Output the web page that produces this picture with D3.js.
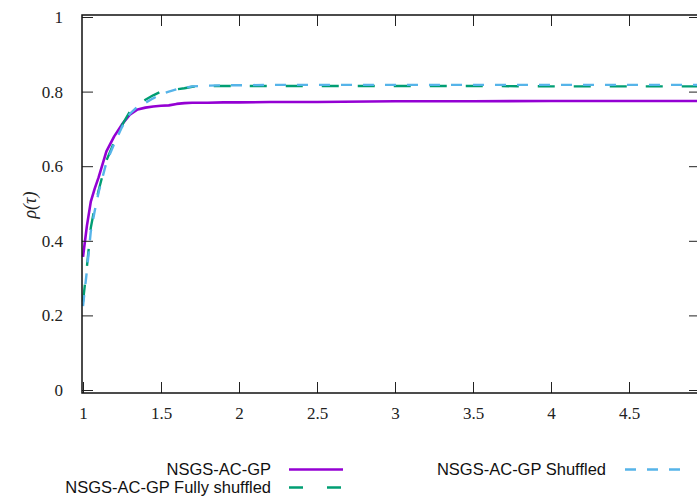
<!DOCTYPE html>
<html><head><meta charset="utf-8">
<script src="https://cdn.jsdelivr.net/npm/d3@7"></script>
<style>
html,body{margin:0;padding:0;background:#fff;}
svg{display:block;}
</style></head>
<body>
<script>
const xVals = [1, 1.025, 1.05, 1.075, 1.1, 1.125, 1.15, 1.2, 1.25, 1.3, 1.35, 1.4, 1.45, 1.5, 1.55, 1.6, 1.65, 1.7, 1.8, 1.9, 2, 2.2, 2.5, 3, 3.5, 4, 4.5, 5];
const nsgs = [0.357, 0.44, 0.505, 0.54, 0.57, 0.605, 0.64, 0.68, 0.712, 0.738, 0.752, 0.757, 0.760, 0.762, 0.763, 0.767, 0.769, 0.770, 0.770, 0.771, 0.771, 0.772, 0.772, 0.774, 0.774, 0.775, 0.775, 0.775];
const fullyShuffled = [0.237, 0.33, 0.435, 0.49, 0.535, 0.575, 0.615, 0.665, 0.71, 0.746, 0.765, 0.778, 0.79, 0.80, 0.803, 0.806, 0.809, 0.813, 0.815, 0.815, 0.815, 0.815, 0.815, 0.815, 0.815, 0.814, 0.814, 0.814];
const shuffled = [0.225, 0.32, 0.425, 0.48, 0.53, 0.57, 0.61, 0.66, 0.705, 0.74, 0.76, 0.77, 0.782, 0.793, 0.80, 0.806, 0.81, 0.814, 0.816, 0.817, 0.817, 0.818, 0.818, 0.818, 0.818, 0.818, 0.818, 0.818];
const seriesNames = ["NSGS-AC-GP", "NSGS-AC-GP Fully shuffled", "NSGS-AC-GP Shuffled"];
const xTicks = [1, 1.5, 2, 2.5, 3, 3.5, 4, 4.5];
const yTicks = [0, 0.2, 0.4, 0.6, 0.8, 1];
const yLabel = "ρ(τ)";

const W = 697, H = 501;
const svg = d3.select("body").append("svg").attr("width", W).attr("height", H);

const x = d3.scaleLinear().domain([1, 5]).range([83, 707]);
const y = d3.scaleLinear().domain([0, 1]).range([390, 17]);
const frame = {left: 82, right: 700, top: 15, bottom: 393};

const series = [
  {name: seriesNames[0], vals: nsgs, color: "#9400d3", dash: null, width: 2.6},
  {name: seriesNames[1], vals: fullyShuffled, color: "#009e73", dash: "17,19", width: 2.4},
  {name: seriesNames[2], vals: shuffled, color: "#56b4e9", dash: "11,11", width: 2.4}
];

const line = d3.line().x(d => x(d[0])).y(d => y(d[1])).curve(d3.curveLinear);
series.forEach(s => {
  svg.append("path")
    .datum(xVals.map((xv, i) => [xv, s.vals[i]]))
    .attr("d", line)
    .attr("fill", "none")
    .attr("stroke", s.color)
    .attr("stroke-width", s.width)
    .attr("stroke-dasharray", s.dash)
    .attr("stroke-linejoin", "round");
});

const tickLen = 11;
const serif = "'Liberation Serif', 'DejaVu Serif', serif";
const gB = svg.append("g").attr("transform", `translate(0,${frame.bottom})`)
  .call(d3.axisBottom(x).tickValues(xTicks).tickSizeInner(-tickLen).tickSizeOuter(0).tickPadding(14).tickFormat(d3.format("")));
const gT = svg.append("g").attr("transform", `translate(0,${frame.top})`)
  .call(d3.axisTop(x).tickValues(xTicks.slice(1)).tickSizeInner(-tickLen).tickSizeOuter(0).tickFormat(""));
const gL = svg.append("g").attr("transform", `translate(${frame.left},0)`)
  .call(d3.axisLeft(y).tickValues(yTicks).tickSizeInner(-tickLen).tickSizeOuter(0).tickPadding(19).tickFormat(d3.format("")));
const gR = svg.append("g").attr("transform", `translate(${frame.right},0)`)
  .call(d3.axisRight(y).tickValues(yTicks).tickSizeInner(-tickLen).tickSizeOuter(0).tickFormat(""));
[gB, gT, gL, gR].forEach(g => {
  g.select(".domain").remove();
  g.selectAll(".tick line").attr("stroke", "#222").attr("stroke-width", 1);
  g.selectAll("text").attr("font-family", serif).attr("font-size", 17).attr("fill", "#222");
});
gB.selectAll("text").attr("dy", "0.71em");

svg.append("rect")
  .attr("x", frame.left).attr("y", frame.top)
  .attr("width", frame.right - frame.left).attr("height", frame.bottom - frame.top)
  .attr("fill", "none").attr("stroke", "#111").attr("stroke-width", 1.5);

svg.append("text")
  .attr("transform", `translate(36,205) rotate(-90)`)
  .attr("text-anchor", "middle")
  .attr("font-family", serif).attr("font-style", "italic").attr("font-size", 18)
  .attr("fill", "#222")
  .text(yLabel);

const sans = "'Liberation Sans', Arial, sans-serif";
const legendItems = [
  {s: series[0], tx: 271, ty: 475, x1: 289, x2: 343, ly: 469.5, dash: null},
  {s: series[1], tx: 271, ty: 493, x1: 289, x2: 343, ly: 487.5, dash: "14,24"},
  {s: series[2], tx: 606, ty: 475, x1: 625, x2: 680, ly: 469.5, dash: "11,11"}
];
const lg = svg.append("g");
legendItems.forEach(it => {
  lg.append("text").attr("x", it.tx).attr("y", it.ty)
    .attr("text-anchor", "end").attr("font-family", sans).attr("font-size", 16.5)
    .attr("fill", "#111").text(it.s.name);
  lg.append("line").attr("x1", it.x1).attr("x2", it.x2).attr("y1", it.ly).attr("y2", it.ly)
    .attr("stroke", it.s.color).attr("stroke-width", it.s.width)
    .attr("stroke-dasharray", it.dash);
});
</script>
</body></html>
